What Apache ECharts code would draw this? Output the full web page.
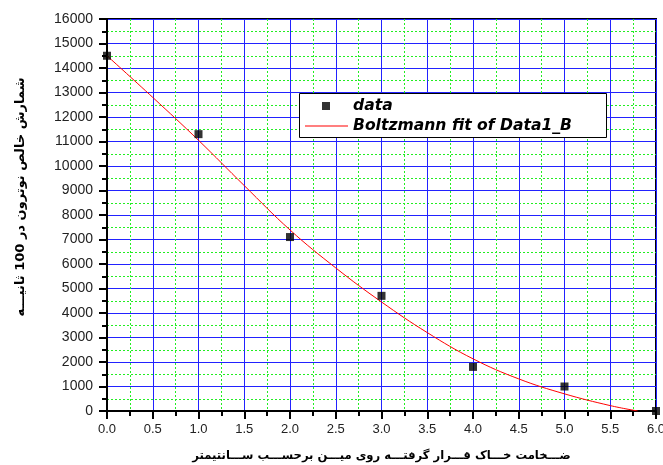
<!DOCTYPE html>
<html>
<head>
<meta charset="utf-8">
<script src="https://cdn.jsdelivr.net/npm/echarts@6/dist/echarts.min.js"></script>
<style>
html,body{margin:0;padding:0;background:#fff;}
#c{width:663px;height:465px;}
</style>
</head>
<body>
<div id="c"></div>
<script>
// Measured data points
const dataX = [0, 1, 2, 3, 4, 5, 6];
const dataY = [14500, 11300, 7100, 4700, 1800, 1000, 0];
// Boltzmann fit curve
const fitX = [0, 0.5, 1, 1.5, 2, 2.5, 3, 3.5, 4, 4.5, 5, 5.5, 5.8];
const fitY = [14500, 12800, 11050, 9200, 7390, 5840, 4450, 3200, 2130, 1310, 700, 220, 0];
// Axis ranges
const xMin = 0, xMax = 6, xStep = 0.5;
const yMin = 0, yMax = 16000, yStep = 1000;
const xTitle = 'ضـــخامت خـــاک قـــرار گرفتـــه روی میـــن برحســـب ســـانتیمتر';
const yTitle = 'شمارش خالص نوترون در 100 ثانیـــه';
const legendNames = ['data', 'Boltzmann fit of Data1_B'];

const chart = echarts.init(document.getElementById('c'), null, {renderer: 'canvas'});
const axisCommon = {
  axisLine: {show: true, onZero: false, lineStyle: {color: '#000', width: 2}},
  axisTick: {show: true, inside: false, length: 8, lineStyle: {color: '#000', width: 2}},
  minorTick: {show: true, splitNumber: 2, length: 5, lineStyle: {color: '#000', width: 2}},
  splitLine: {show: true, lineStyle: {color: '#2222ff', width: 1}},
  minorSplitLine: {show: true, lineStyle: {color: '#22ee22', width: 1, type: [2, 2]}}
};
const legendText = {fontFamily: 'DejaVu Sans', fontSize: 15.6, fontWeight: 'bold', fontStyle: 'italic', color: '#000'};
const option = {
  animation: false,
  backgroundColor: '#fff',
  grid: {left: 107, right: 7, top: 19, bottom: 54, show: true, borderColor: '#000', borderWidth: 2,
    backgroundColor: 'transparent', outerBoundsMode: 'none', containLabel: false},
  xAxis: Object.assign({
    type: 'value', min: xMin, max: xMax, interval: xStep,
    axisLabel: {fontFamily: 'Liberation Sans, Arial', fontSize: 13, color: '#222', margin: 12,
      formatter: v => v.toFixed(1)},
    name: xTitle, nameLocation: 'middle', nameGap: 39,
    nameTextStyle: {fontFamily: 'DejaVu Sans', fontWeight: 'bold', fontSize: 11.6, color: '#000'}
  }, axisCommon),
  yAxis: Object.assign({
    type: 'value', min: yMin, max: yMax, interval: yStep,
    axisLabel: {fontFamily: 'Liberation Sans, Arial', fontSize: 14, color: '#222', margin: 14,
      formatter: v => String(v)}
  }, axisCommon),
  legend: [
    {data: [{name: legendNames[0], icon: 'rect'}], left: 317, top: 93, orient: 'vertical',
      itemWidth: 8, itemHeight: 8, selectedMode: false,
      textStyle: Object.assign({padding: [0, 0, 0, 18]}, legendText)},
    {data: [{name: legendNames[1], icon: 'rect'}], left: 300, top: 113, orient: 'vertical',
      itemWidth: 43, itemHeight: 1, selectedMode: false,
      textStyle: legendText}
  ],
  graphic: [
    {type: 'rect', left: 299, top: 93, z: 4,
      shape: {width: 307, height: 44}, style: {fill: '#fff', stroke: '#000', lineWidth: 1}},
    {type: 'text', x: 21, y: 197, rotation: Math.PI / 2, z: 10,
      style: {text: yTitle, fontFamily: 'DejaVu Sans', fontWeight: 'bold', fontSize: 13, fill: '#000',
        align: 'center', verticalAlign: 'middle'}}
  ],
  series: [
    {name: legendNames[0], type: 'scatter', symbol: 'rect', symbolSize: 8, z: 3,
      itemStyle: {color: '#000'},
      data: dataX.map((x, i) => [x, dataY[i]])},
    {name: legendNames[1], type: 'line', smooth: 0.4, showSymbol: false, symbol: 'none', z: 2,
      lineStyle: {color: '#ff0000', width: 1}, itemStyle: {color: '#ff0000'},
      data: fitX.map((x, i) => [x, fitY[i]])}
  ]
};
chart.setOption(option);
</script>
</body>
</html>
